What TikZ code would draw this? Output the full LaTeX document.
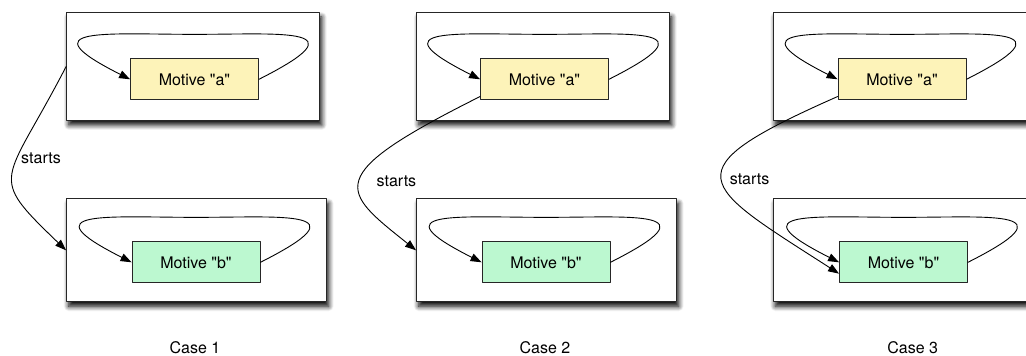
\documentclass[tikz,border=0pt]{standalone}
\usepackage{fontspec}
\setmainfont{TeX Gyre Heros}
\usepackage{tikz}
\usetikzlibrary{arrows.meta}
\usetikzlibrary{calc}
\usetikzlibrary{shadows.blur}
\definecolor{motiveyellow}{RGB}{253,243,185}
\definecolor{motivegreen}{RGB}{188,248,208}

\begin{document}
\begin{tikzpicture}[x=1pt,y=1pt,line cap=round,line join=round,>={Triangle[length=11pt,width=8pt]},
  font=\fontsize{16}{19}\selectfont,
  outer/.style={draw=black!85,line width=1.3pt,fill=white,inner sep=0pt,
    blur shadow={shadow xshift=2pt,shadow yshift=-4.5pt,shadow blur radius=5pt,shadow blur steps=8,shadow opacity=100}},
  outertop/.style={outer,minimum width=253pt,minimum height=108pt},
  outerbottom/.style={outer,minimum width=260pt,minimum height=103pt},
  motive/.style={draw=black!85,line width=0.9pt,minimum width=128pt,minimum height=41pt,inner sep=0pt},
  motivea/.style={motive,fill=motiveyellow},
  motiveb/.style={motive,fill=motivegreen},
  loopline/.style={->,line width=0.9pt},
  startsline/.style={->,line width=0.9pt}]
\useasboundingbox (0,0) rectangle (1026,356);
\clip (0,0) rectangle (1026,356);
% outer boxes
\node[outertop] (A1) at (193.3,289.5) {};
\node[outerbottom] (B1) at (196.7,105.7) {};
\node[outertop] (A2) at (543.3,289.5) {};
\node[outerbottom] (B2) at (546.7,105.7) {};
\node[outerbottom,minimum height=108pt] (A3) at (903.3,289.5) {};
\node[outerbottom] (B3) at (903.3,105.7) {};
% motives
\node[motivea] (a1) at (194.5,276.7) {Motive \textquotedbl a\textquotedbl};
\node[motiveb] (b1) at (196,93.7) {Motive \textquotedbl b\textquotedbl};
\node[motivea] (a2) at (544.5,276.7) {Motive \textquotedbl a\textquotedbl};
\node[motiveb] (b2) at (546,93.7) {Motive \textquotedbl b\textquotedbl};
\node[motivea] (a3) at (902,276.7) {Motive \textquotedbl a\textquotedbl};
\node[motiveb] (b3) at (903.5,93.7) {Motive \textquotedbl b\textquotedbl};
% loops
\foreach \m in {a1,b1,a2,b2,a3,b3}{
  \coordinate (t\m) at ($(\m.north)+(0,24)$);
  \draw[loopline] (\m.east) .. controls +(105,53) and +(88,0) .. (t\m) .. controls +(-88,0) and +(-105,53) .. (\m.west);
}
% starts
\draw[startsline] (A1.west) .. controls +(-62,-120) and +(-80,77) .. (B1.west) node[pos=0.38,right] {starts};
\draw[startsline] (a2.195) .. controls +(-160,-80) and +(-75,60) .. (B2.west) node[pos=0.5,right,xshift=13pt] {starts};
\draw[startsline] (a3.195) .. controls +(-170,-75) and +(-140,90) .. (b3.190) node[pos=0.5,right,xshift=4pt] {starts};
% cases
\node (case1) at (195,8) {Case 1};
\node (case2) at (545,8) {Case 2};
\node (case3) at (912.7,8) {Case 3};
\end{tikzpicture}
\end{document}
